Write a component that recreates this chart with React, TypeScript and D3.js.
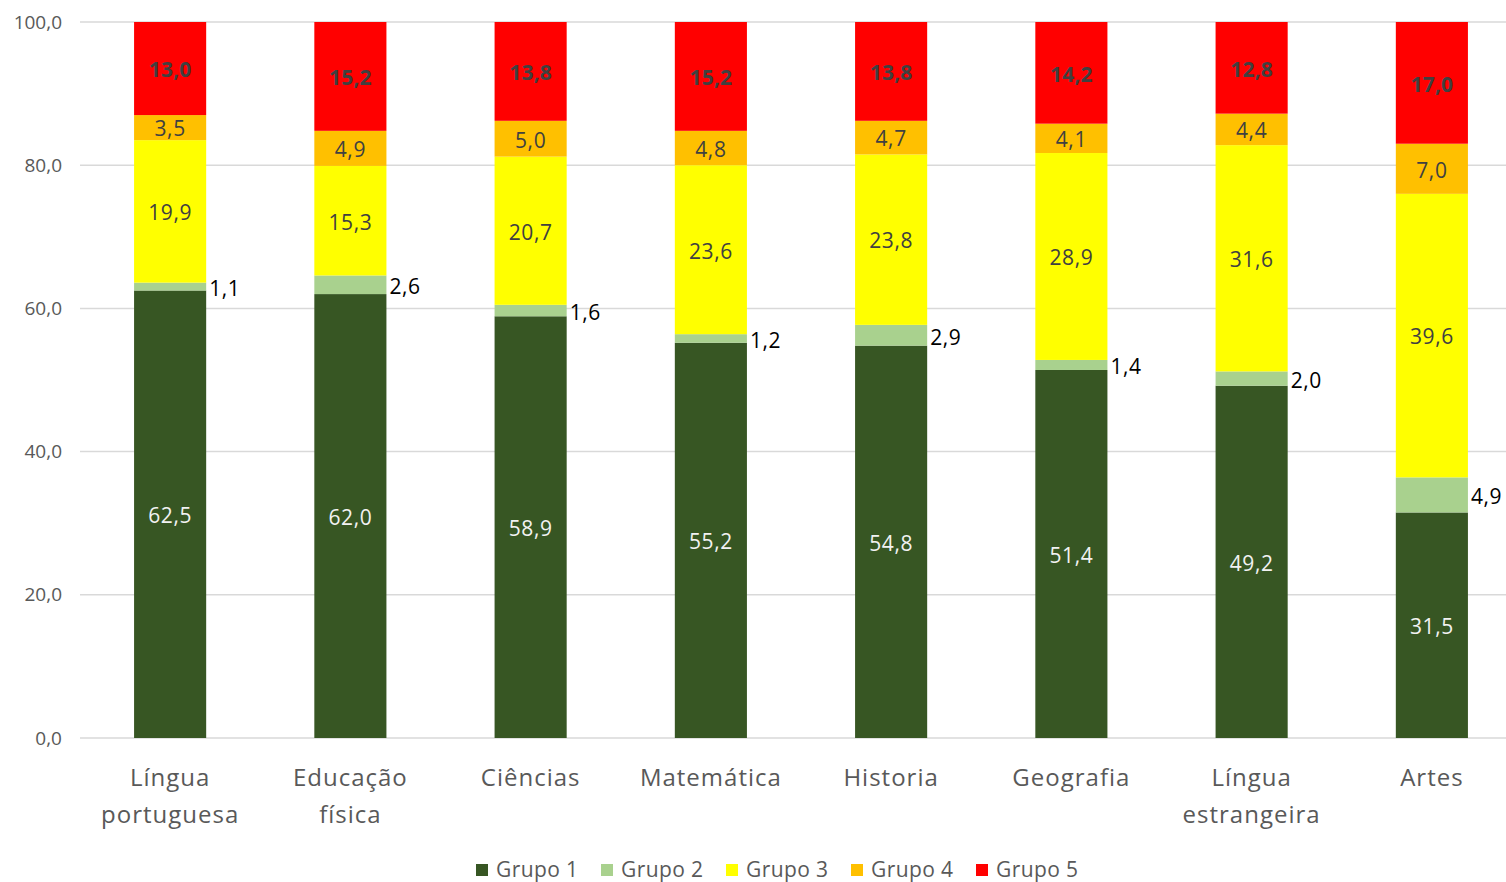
import React from "react";
import * as d3 from "d3";

const categories = [
  ["Língua", "portuguesa"],
  ["Educação", "física"],
  ["Ciências"],
  ["Matemática"],
  ["Historia"],
  ["Geografia"],
  ["Língua", "estrangeira"],
  ["Artes"],
];
const seriesNames = ["Grupo 1", "Grupo 2", "Grupo 3", "Grupo 4", "Grupo 5"];
const grupo1 = [62.5, 62.0, 58.9, 55.2, 54.8, 51.4, 49.2, 31.5];
const grupo2 = [1.1, 2.6, 1.6, 1.2, 2.9, 1.4, 2.0, 4.9];
const grupo3 = [19.9, 15.3, 20.7, 23.6, 23.8, 28.9, 31.6, 39.6];
const grupo4 = [3.5, 4.9, 5.0, 4.8, 4.7, 4.1, 4.4, 7.0];
const grupo5 = [13.0, 15.2, 13.8, 15.2, 13.8, 14.2, 12.8, 17.0];
const yTicks = [0, 20, 40, 60, 80, 100];

const colors = ["#375623", "#a9d18e", "#ffff00", "#ffc000", "#ff0000"];
const labelColors = ["#f2f2f2", "#000000", "#404040", "#404040", "#404040"];
const FONT = "'Open Sans', sans-serif";

export default function App() {
  const W = 1506;
  const H = 882;
  const series = [grupo1, grupo2, grupo3, grupo4, grupo5];
  const x = d3
    .scaleBand<number>()
    .domain(d3.range(categories.length))
    .range([80, 1522])
    .paddingInner(0.6)
    .paddingOuter(0.3);
  const y = d3.scaleLinear().domain([0, 100]).range([738, 22]);
  const fmt = (v: number) => v.toFixed(1).replace(".", ",");

  const bars: React.ReactNode[] = [];
  const labels: React.ReactNode[] = [];
  categories.forEach((_, i) => {
    let cum = 0;
    series.forEach((s, k) => {
      const v = s[i];
      const y0 = y(cum);
      const y1 = y(cum + v);
      const bx = x(i)!;
      bars.push(
        <rect key={`b${i}-${k}`} x={bx} y={y1} width={x.bandwidth()} height={y0 - y1} fill={colors[k]} />
      );
      const cy = (y0 + y1) / 2;
      if (k === 1) {
        labels.push(
          <text key={`l${i}-${k}`} x={bx + x.bandwidth() + 3} y={cy} dy="0.45em" fontSize={21} letterSpacing={0.6} fill="#000" fontFamily={FONT}>
            {fmt(v)}
          </text>
        );
      } else {
        labels.push(
          <text
            key={`l${i}-${k}`}
            x={bx + x.bandwidth() / 2}
            y={cy}
            dy="0.42em"
            textAnchor="middle"
            fontSize={21}
            letterSpacing={k === 4 ? 0.2 : 0.6}
            fontWeight={k === 4 ? "bold" : "normal"}
            fill={labelColors[k]}
            fontFamily={FONT}
          >
            {fmt(v)}
          </text>
        );
      }
      cum += v;
    });
  });

  return (
    <svg width={W} height={H} style={{ position: "absolute", left: 0, top: 0, background: "#fff" }}>
      {yTicks.map((t) => (
        <g key={t}>
          <line x1={80} x2={1506} y1={y(t)} y2={y(t)} stroke="#d9d9d9" strokeWidth={1.5} />
          <text x={62} y={y(t)} dy="0.35em" textAnchor="end" fontSize={19} fill="#595959" fontFamily={FONT}>
            {fmt(t)}
          </text>
        </g>
      ))}
      {bars}
      {labels}
      {categories.map((c, i) => (
        <text key={`c${i}`} textAnchor="middle" fontSize={24} letterSpacing={1} fill="#595959" fontFamily={FONT}>
          {c.map((line, j) => (
            <tspan key={j} x={x(i)! + x.bandwidth() / 2} y={786 + j * 37}>
              {line}
            </tspan>
          ))}
        </text>
      ))}
      {seriesNames.map((n, k) => (
        <g key={n} transform={`translate(${476 + k * 125},870)`}>
          <rect x={0} y={-6} width={12} height={12} fill={colors[k]} />
          <text x={20} y={0} dy="0.35em" fontSize={21} letterSpacing={0.4} fill="#595959" fontFamily={FONT}>
            {n}
          </text>
        </g>
      ))}
    </svg>
  );
}
